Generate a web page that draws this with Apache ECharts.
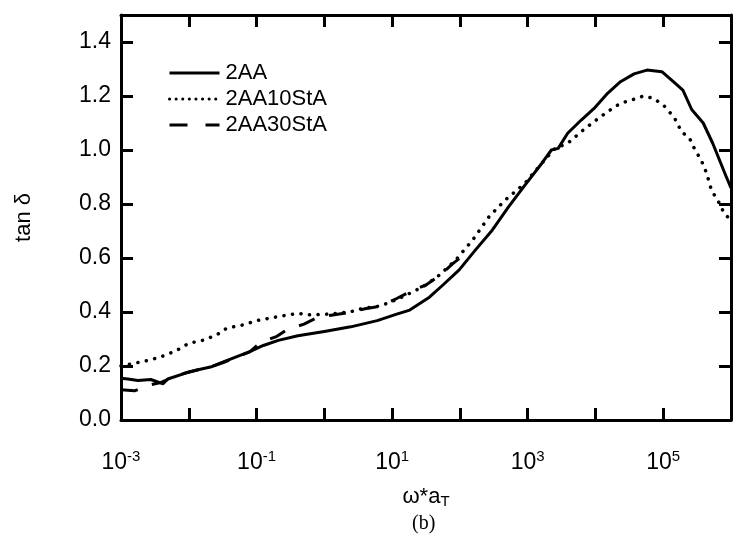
<!DOCTYPE html>
<html><head><meta charset="utf-8">
<script src="https://cdn.jsdelivr.net/npm/echarts@6/dist/echarts.min.js"></script>
<style>html,body{margin:0;padding:0;background:#fff}#c{width:734px;height:542px}</style>
</head><body><div id="c"></div>
<script>
// ---- data ----
const seriesNames = ['2AA', '2AA10StA', '2AA30StA'];

const x2AA = [1.00e-3, 1.26e-3, 1.78e-3, 2.75e-3, 3.55e-3, 4.17e-3, 4.90e-3, 8.51e-3, 1.32e-2, 2.09e-2,
  3.24e-2, 5.13e-2, 7.94e-2, 0.126, 0.209, 0.407, 1.0, 2.45, 6.03, 11.7,
  18.2, 35.5, 56.2, 97.7, 170, 302, 525, 912, 1620, 2240,
  2820, 3890, 6170, 9550, 15100, 23400, 37200, 57500, 95500, 141000,
  195000, 263000, 389000, 537000, 851000, 1000000];
const y2AA = [0.155, 0.152, 0.146, 0.150, 0.140, 0.134, 0.152, 0.172, 0.185, 0.196,
  0.215, 0.235, 0.253, 0.276, 0.295, 0.312, 0.328, 0.345, 0.368, 0.392,
  0.407, 0.455, 0.500, 0.556, 0.630, 0.704, 0.790, 0.870, 0.951, 1.000,
  1.006, 1.062, 1.111, 1.154, 1.210, 1.253, 1.282, 1.296, 1.290, 1.253,
  1.222, 1.150, 1.100, 1.025, 0.901, 0.86];

const x2AA10StA = [1.00e-3, 1.58e-3, 2.45e-3, 3.89e-3, 6.46e-3, 1.00e-2, 1.66e-2, 2.57e-2, 3.63e-2, 6.31e-2,
  0.100, 0.209, 0.407, 0.631, 1.26, 2.45, 3.80, 6.61, 11.7, 16.2,
  28.8, 50.1, 87.1, 155, 269, 468, 912, 1780, 2510, 3890,
  6170, 9550, 15100, 23400, 37200, 51300, 72400, 107000, 148000, 186000,
  245000, 295000, 363000, 437000, 513000, 676000, 794000, 1000000];
const y2AA10StA = [0.200, 0.210, 0.220, 0.234, 0.256, 0.284, 0.296, 0.315, 0.340, 0.352,
  0.368, 0.383, 0.395, 0.389, 0.393, 0.401, 0.414, 0.422, 0.446, 0.463,
  0.494, 0.537, 0.593, 0.667, 0.753, 0.815, 0.877, 0.963, 1.005, 1.025,
  1.068, 1.105, 1.142, 1.173, 1.188, 1.200, 1.191, 1.160, 1.117, 1.068,
  1.043, 1.000, 0.963, 0.914, 0.852, 0.802, 0.765, 0.74];

const x2AA30StA = [1.00e-3, 1.58e-3, 2.51e-3, 3.98e-3, 6.31e-3, 1.00e-2, 2.00e-2, 3.16e-2, 5.01e-2, 7.94e-2,
  0.112, 0.158, 0.200, 0.282, 0.501, 0.794, 1.26, 2.51, 3.98, 6.31,
  11.7, 20.0, 31.6, 50.1, 79.4, 100];
const y2AA30StA = [0.112, 0.108, 0.128, 0.140, 0.162, 0.178, 0.195, 0.212, 0.232, 0.252,
  0.285, 0.300, 0.310, 0.335, 0.355, 0.380, 0.388, 0.400, 0.412, 0.420,
  0.450, 0.480, 0.500, 0.535, 0.580, 0.600];

const yTicks = [0.0, 0.2, 0.4, 0.6, 0.8, 1.0, 1.2, 1.4];
const xLabelExponents = [-3, -1, 1, 3, 5];

// ---- chart ----
const zip = (xs, ys) => xs.map((x, i) => [x, ys[i]]);
const FONT = '"Liberation Sans", Arial, sans-serif';
const chart = echarts.init(document.getElementById('c'), null, {renderer: 'canvas'});

const frameLine = {show: true, onZero: false, lineStyle: {color: '#000', width: 3}};
const frameTick = {show: true, inside: true, length: 12, lineStyle: {color: '#000', width: 3}};

const option = {
  animation: false,
  backgroundColor: '#fff',
  grid: {left: 121, top: 15, width: 617, height: 405},
  legend: {
    orient: 'vertical', left: 163, top: 57, itemWidth: 50, itemHeight: 2, itemGap: 4,
    data: [
      {name: seriesNames[0], lineStyle: {width: 3, type: 'solid'}},
      {name: seriesNames[1], lineStyle: {width: 3, type: [0.1, 6.5], cap: 'round'}},
      {name: seriesNames[2], lineStyle: {width: 3, type: [18, 18]}}
    ],
    itemStyle: {opacity: 0},
    textStyle: {fontFamily: FONT, fontSize: 22, color: '#000', padding: [0, 0, 0, 1]}
  },
  xAxis: [{
    type: 'log', logBase: 10, min: 1e-3, max: 1e6, position: 'bottom',
    axisLine: frameLine, axisTick: frameTick, splitLine: {show: false}, minorTick: {show: false},
    axisLabel: {
      margin: 29,
      formatter: v => {
        const e = Math.round(Math.log10(v));
        return xLabelExponents.indexOf(e) >= 0 ? '{b|10}{s|' + e + '}' : '';
      },
      rich: {
        b: {fontFamily: FONT, fontSize: 23, color: '#000'},
        s: {fontFamily: FONT, fontSize: 15, color: '#000', verticalAlign: 'top', padding: [0, 0, 12, 0]}
      }
    },
    name: '{a|ω*a}{t|T}', nameLocation: 'middle', nameGap: 64,
    nameTextStyle: {
      rich: {
        a: {fontFamily: FONT, fontSize: 22, color: '#000'},
        t: {fontFamily: FONT, fontSize: 15, color: '#000', verticalAlign: 'bottom', padding: [10, 0, 0, 0]}
      }
    }
  }, {
    type: 'log', logBase: 10, min: 1e-3, max: 1e6, position: 'top',
    axisLine: frameLine, axisTick: frameTick, splitLine: {show: false}, axisLabel: {show: false}
  }],
  yAxis: [{
    type: 'value', min: 0, max: 1.5, interval: 0.2, position: 'left',
    axisLine: frameLine, axisTick: frameTick, splitLine: {show: false},
    axisLabel: {
      margin: 10, showMaxLabel: false,
      formatter: v => yTicks.some(t => Math.abs(t - v) < 1e-9) ? v.toFixed(1) : '',
      fontFamily: FONT, fontSize: 23, color: '#000'
    },
    name: 'tan δ', nameLocation: 'middle', nameGap: 86,
    nameTextStyle: {fontFamily: FONT, fontSize: 22, color: '#000'}
  }, {
    type: 'value', min: 0, max: 1.5, interval: 0.2, position: 'right',
    axisLine: frameLine, axisTick: frameTick, splitLine: {show: false}, axisLabel: {show: false}
  }],
  graphic: [{
    type: 'text', left: 412, top: 514,
    style: {text: '(b)', font: '20px "Liberation Serif", "Times New Roman", serif', fill: '#000'}
  }],
  series: [{
    name: seriesNames[0], type: 'line', symbol: 'none', data: zip(x2AA, y2AA),
    lineStyle: {color: '#000', width: 3, type: 'solid', join: 'round'}, itemStyle: {color: '#000'}, z: 3
  }, {
    name: seriesNames[1], type: 'line', symbol: 'none', data: zip(x2AA10StA, y2AA10StA),
    lineStyle: {color: '#000', width: 3.5, type: [0.1, 8.5], cap: 'round'}, itemStyle: {color: '#000'}, z: 2
  }, {
    name: seriesNames[2], type: 'line', symbol: 'none', data: zip(x2AA30StA, y2AA30StA),
    lineStyle: {color: '#000', width: 3, type: [17, 15]}, itemStyle: {color: '#000'}, z: 2
  }]
};
chart.setOption(option);
</script>
</body></html>
